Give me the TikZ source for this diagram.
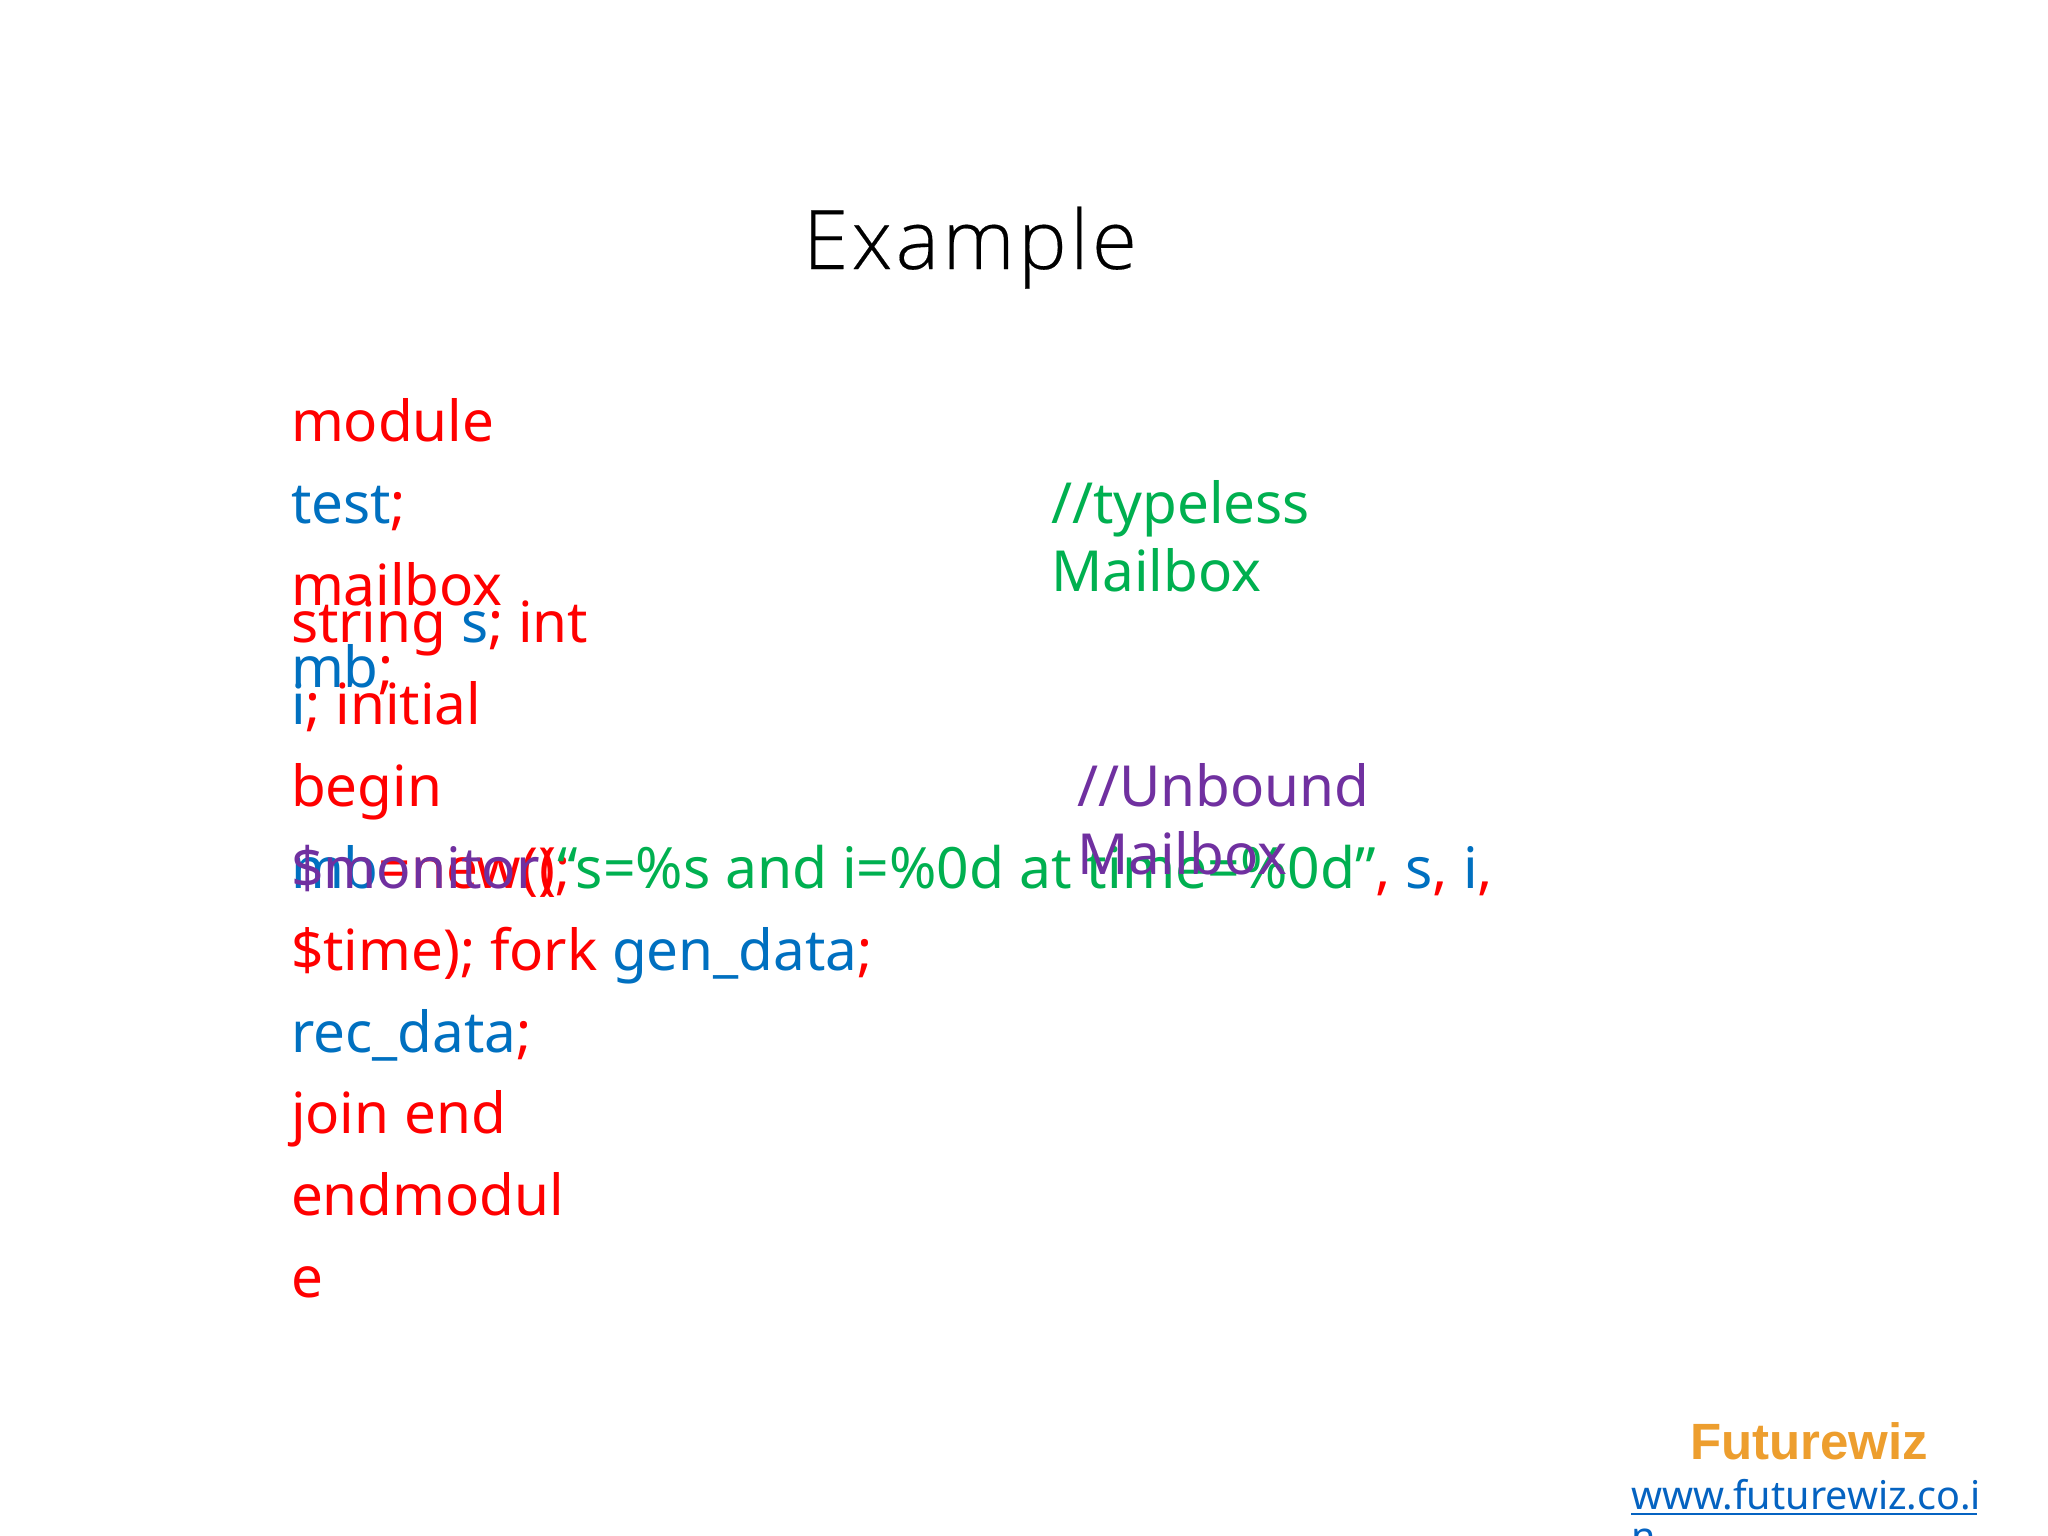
\documentclass[tikz,border=0pt]{standalone}
\usepackage{fontspec}
\setmainfont{Noto Sans}
\newfontfamily\titlefont[LetterSpace=4,FakeBold=0.2]{Open Sans Light}
\newfontfamily\brandfont{Liberation Sans}
\definecolor{cred}{HTML}{FF0000}
\definecolor{cblue}{HTML}{0070C0}
\definecolor{cgreen}{HTML}{00B050}
\definecolor{cpurple}{HTML}{7030A0}
\definecolor{corange}{HTML}{ED9E2E}
\definecolor{clink}{HTML}{0563C1}
\newcommand{\bl}[1]{\textcolor{cblue}{#1}}
\newcommand{\gr}[1]{\textcolor{cgreen}{#1}}
\tikzset{x=1pt,y=-1pt,
 code/.style={anchor=base west,inner sep=0pt,outer sep=0pt,font=\fontsize{56.6}{57}\selectfont,text=cred},
 note/.style={code}}
\begin{document}
\begin{tikzpicture}
\useasboundingbox (0,0) rectangle (2048,1536);
\fill[white] (0,0) rectangle (2048,1536);
\node[anchor=base,inner sep=0pt,font=\titlefont\fontsize{82}{82}\selectfont] (title) at (970,269) {Example};
\node[code] (l1) at (291,441) {module};
\node[code] (l2) at (291,523) {\bl{test};};
\node[code] (l3) at (291,605) {mailbox};
\node[code] (l4) at (291,687) {\bl{mb};};
\node[code] (l5) at (291,642) {string \bl{s}; int};
\node[code] (l6) at (291,724) {\bl{i}; initial};
\node[code] (l7) at (291,806) {begin};
\node[code] (l8) at (291,888) {\bl{mb}=new();};
\node[code,font=\fontsize{57}{57}\selectfont] (l9) at (291,888) {\textcolor{cpurple}{\$monitor}(\gr{“s=\%s and i=\%0d at time=\%0d”}, \bl{s}, \bl{i},};
\node[code] (l10) at (291,970) {\$time); fork \bl{gen\_data};};
\node[code] (l11) at (291,1052) {\bl{rec\_data};};
\node[code] (l12) at (291,1133) {join end};
\node[code] (l13) at (291,1215) {endmodul};
\node[code] (l14) at (291,1297) {e};
\node[note,text=cgreen] (n1) at (1051,523) {//typeless};
\node[note,text=cgreen] (n2) at (1051,591) {Mailbox};
\node[note,text=cpurple] (n3) at (1077,806) {//Unbound};
\node[note,text=cpurple] (n4) at (1077,874) {Mailbox};
\node[anchor=base,inner sep=0pt,text=corange,font=\brandfont\bfseries\fontsize{51}{51}\selectfont] (brand) at (1809,1459) {Futurewiz};
\node[anchor=base west,inner sep=0pt,text=clink,font=\fontsize{39.5}{39.5}\selectfont] (url) at (1631,1509) {www.futurewiz.co.i};
\draw[clink,line width=2.5pt] (url.base west)++(0,5) -- ++(346,0);
\node[anchor=base west,inner sep=0pt,text=clink,font=\fontsize{39.5}{39.5}\selectfont] (url2) at (1631,1550) {n};
\end{tikzpicture}
\end{document}
